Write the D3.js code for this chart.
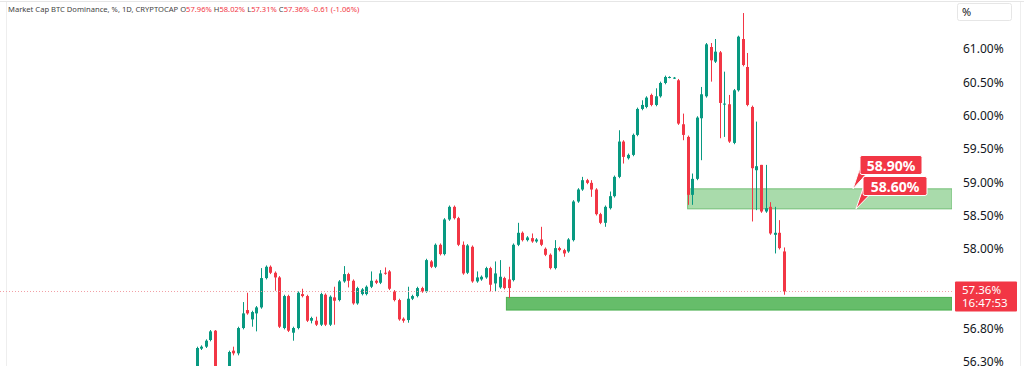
<!DOCTYPE html>
<html>
<head>
<meta charset="utf-8">
<script src="https://cdn.jsdelivr.net/npm/d3@7"></script>
<style>
  body { margin: 0; background: #fff; }
  svg { display: block; font-family: "Noto Sans", "Open Sans", sans-serif; }
</style>
</head>
<body>
<div id="chart"></div>
<script>
// daily candles, BTC dominance in %
const opens = [56.10,56.50,56.53,56.63,56.77,56.05,55.95,56.10,56.47,56.43,
  56.81,57.08,56.94,57.03,57.12,57.56,57.73,57.64,57.57,56.81,
  57.29,56.74,56.81,57.32,57.29,56.92,56.92,56.86,57.31,56.86,
  57.27,57.23,57.51,57.62,57.52,57.18,57.32,57.32,57.43,57.52,
  57.49,57.64,57.66,57.36,57.23,56.95,56.93,57.25,57.29,57.41,
  57.36,57.81,57.73,58.06,57.92,58.44,58.63,58.46,58.06,57.64,
  58.03,57.51,57.54,57.57,57.71,57.48,57.42,57.56,57.54,57.53,
  58.06,58.24,58.13,58.16,58.11,58.14,58.00,57.91,57.71,58.01,
  57.98,57.96,58.13,58.71,58.89,59.03,58.99,58.89,58.52,58.39,
  58.61,58.79,59.08,59.61,59.36,59.41,59.71,60.10,60.13,60.31,
  60.16,60.29,60.49,60.57,60.56,60.53,59.87,59.68,58.81,59.05,
  59.96,60.29,61.03,60.81,60.95,60.17,60.17,59.59,60.38,61.15,
  60.73,60.13,59.18,59.26,58.56,58.63,58.21,58.24,57.96];
const highs = [56.53,56.55,56.64,56.78,56.78,56.12,56.15,56.47,56.53,56.83,
  57.20,57.34,57.07,57.14,57.71,57.75,57.75,57.66,57.59,57.31,
  57.31,56.83,57.36,57.40,57.31,56.98,56.98,57.34,57.33,57.30,
  57.43,57.53,57.74,57.64,57.54,57.43,57.41,57.45,57.66,57.54,
  57.68,57.72,57.68,57.38,57.25,56.97,57.43,57.31,57.43,57.43,
  57.85,57.83,58.08,58.08,58.46,58.65,58.65,58.48,58.11,58.07,
  58.05,57.66,57.60,57.73,57.73,57.81,57.83,57.58,57.73,58.08,
  58.39,58.26,58.19,58.23,58.16,58.33,58.02,57.93,58.13,58.03,
  58.00,58.16,58.73,58.91,59.08,59.05,59.03,58.91,58.54,58.65,
  58.86,59.10,59.78,59.63,59.43,59.73,60.12,60.23,60.29,60.33,
  60.41,60.51,60.60,60.59,60.58,60.55,60.03,59.70,59.13,59.99,
  60.43,61.09,61.09,61.15,60.97,60.66,60.31,60.40,61.20,61.54,
  60.94,60.15,59.91,59.26,59.26,58.70,58.63,58.43,58.02];
const lows = [56.02,56.48,56.51,56.61,56.00,55.90,55.90,56.05,56.40,56.40,
  56.79,57.01,56.83,56.76,57.10,57.54,57.62,57.37,56.81,56.79,
  56.75,56.62,56.79,57.27,56.90,56.88,56.84,56.84,56.84,56.84,
  56.86,57.21,57.49,57.42,57.16,57.16,57.30,57.30,57.41,57.47,
  57.47,57.61,57.38,57.21,56.92,56.89,56.89,57.23,57.27,57.34,
  57.34,57.71,57.71,57.90,57.90,58.42,58.44,58.04,57.61,57.62,
  57.49,57.49,57.52,57.55,57.36,57.36,57.40,57.39,57.26,57.51,
  58.04,58.11,58.11,58.09,58.09,58.04,57.89,57.69,57.69,57.96,
  57.88,57.94,58.11,58.69,58.87,58.97,58.78,58.50,58.37,58.33,
  58.59,58.77,59.06,59.28,59.34,59.39,59.69,60.08,60.11,60.14,
  60.14,60.27,60.47,60.56,60.55,59.86,59.63,58.66,58.66,59.03,
  59.33,60.27,60.51,60.79,59.66,59.68,59.59,59.57,60.36,60.74,
  60.14,58.41,58.58,58.54,58.54,58.21,57.93,57.99,57.31];
const closes = [56.51,56.53,56.62,56.76,56.05,55.95,56.10,56.45,56.43,56.81,
  57.03,57.03,57.05,57.12,57.56,57.73,57.64,57.57,56.83,57.29,
  56.77,56.81,57.34,57.29,56.92,56.96,56.86,57.32,56.86,57.28,
  57.22,57.51,57.62,57.52,57.18,57.41,57.39,57.43,57.52,57.49,
  57.63,57.63,57.40,57.23,56.94,56.92,57.25,57.29,57.41,57.36,
  57.83,57.73,58.06,57.92,58.44,58.63,58.46,58.06,57.63,58.05,
  57.51,57.57,57.58,57.71,57.46,57.63,57.58,57.41,57.41,58.06,
  58.24,58.13,58.17,58.11,58.14,58.06,57.91,57.71,58.01,57.98,
  57.93,58.14,58.71,58.89,59.03,58.99,58.89,58.52,58.39,58.63,
  58.79,59.08,59.61,59.38,59.41,59.71,60.10,60.16,60.27,60.16,
  60.29,60.49,60.58,60.58,60.57,59.88,59.71,58.81,59.05,59.97,
  60.32,61.07,60.83,60.96,60.19,60.18,59.61,60.38,61.185,60.76,
  60.16,59.21,59.24,58.56,58.61,58.23,58.24,58.01,57.36];

const tickValues = [61.0, 60.5, 60.0, 59.5, 59.0, 58.5, 58.0, 56.8, 56.3];
const upperZone = [58.60, 58.90];
const lowerZone = [57.08, 57.27];
const lastPrice = 57.36;
const countdown = "16:47:53";

const W = 1024, H = 366, plotRight = 952;
const green = "#089981", red = "#f23645";

const svg = d3.select("#chart").append("svg")
  .attr("width", W).attr("height", H);

svg.append("defs").append("clipPath").attr("id", "plot")
  .append("rect").attr("x", 0).attr("y", 0).attr("width", plotRight).attr("height", H);

const x = d3.scaleLinear().domain([0, opens.length - 1]).range([196.7, 784]);
const y = d3.scaleLinear().domain([56.3, 61]).range([362, 49]);

// frame lines
svg.append("line").attr("x1", 0).attr("x2", W).attr("y1", 1.5).attr("y2", 1.5)
  .attr("stroke", "#e6e6e6");
svg.append("line").attr("x1", 6.5).attr("x2", 6.5).attr("y1", 2).attr("y2", H)
  .attr("stroke", "#eeeeee");
svg.append("line").attr("x1", 1020.5).attr("x2", 1020.5).attr("y1", 2).attr("y2", H)
  .attr("stroke", "#eeeeee");

const g = svg.append("g").attr("clip-path", "url(#plot)");

// zones
g.append("rect")
  .attr("x", x(107)).attr("width", plotRight - x(107))
  .attr("y", y(upperZone[1])).attr("height", y(upperZone[0]) - y(upperZone[1]))
  .attr("fill", "#a9dbab").attr("stroke", "#73bf76").attr("stroke-width", 1);
g.append("rect")
  .attr("x", x(67.5)).attr("width", plotRight - x(67.5))
  .attr("y", y(lowerZone[1])).attr("height", y(lowerZone[0]) - y(lowerZone[1]))
  .attr("fill", "#66bd6a").attr("stroke", "#4caf50").attr("stroke-width", 1);

// last price line
svg.append("line")
  .attr("x1", 0).attr("x2", plotRight).attr("y1", Math.round(y(lastPrice)) + 0.5).attr("y2", Math.round(y(lastPrice)) + 0.5)
  .attr("stroke", "#f2a0a6").attr("stroke-dasharray", "1,2");

const data = opens.map((o, i) => ({ i, o, h: highs[i], l: lows[i], c: closes[i] }));

const candles = g.selectAll("g.candle").data(data).enter().append("g").attr("class", "candle");
candles.append("line")
  .attr("x1", d => Math.round(x(d.i)) + 0.5).attr("x2", d => Math.round(x(d.i)) + 0.5)
  .attr("y1", d => y(d.h)).attr("y2", d => y(d.l))
  .attr("stroke", d => d.c >= d.o ? green : red).attr("stroke-width", 1);
candles.append("rect")
  .attr("x", d => Math.round(x(d.i)) - 1)
  .attr("width", 3)
  .attr("y", d => y(Math.max(d.o, d.c)))
  .attr("height", d => Math.max(1, Math.abs(y(d.o) - y(d.c))))
  .attr("fill", d => d.c >= d.o ? green : red);

// y axis labels
const yAxis = d3.axisRight(y).tickValues(tickValues).tickSize(0).tickPadding(0)
  .tickFormat(d => d3.format(".2f")(d) + "%");
const ax = svg.append("g").attr("transform", "translate(963,0)").call(yAxis);
ax.select(".domain").remove();
ax.selectAll("text").attr("fill", "#131722").style("font-size", "12px")
  .style("font-family", "'Noto Sans', sans-serif");

// "%" box
svg.append("rect").attr("x", 957.5).attr("y", 3.5).attr("width", 54).attr("height", 17).attr("rx", 2)
  .attr("fill", "#fff").attr("stroke", "#e6e6e6");
svg.append("text").attr("x", 962).attr("y", 16).text("%")
  .attr("fill", "#131722").style("font-size", "11px");

// last price tag
const py = y(lastPrice);
svg.append("rect").attr("x", 955).attr("y", py - 10).attr("width", 62).attr("height", 30).attr("rx", 1)
  .attr("fill", red);
svg.append("text").attr("x", 962).attr("y", py + 3).text(d3.format(".2f")(lastPrice) + "%")
  .attr("fill", "#fff").style("font-size", "11.5px");
svg.append("text").attr("x", 962).attr("y", py + 16).text(countdown)
  .attr("fill", "#fff").style("font-size", "11.5px");

// zone callouts
function callout(v, bx, by, bw) {
  const ty = y(v);
  svg.append("path")
    .attr("d", `M${bx},${by + 12} L${bx - 7},${ty} L${bx + 6},${by + 19} Z`)
    .attr("fill", red).attr("stroke", "#fff").attr("stroke-width", 1);
  svg.append("rect").attr("x", bx).attr("y", by).attr("width", bw).attr("height", 19).attr("rx", 2)
    .attr("fill", red).attr("stroke", "#fff").attr("stroke-width", 1);
  svg.append("text").attr("x", bx + bw / 2).attr("y", by + 15).attr("text-anchor", "middle")
    .text(d3.format(".2f")(v) + "%")
    .attr("fill", "#fff").style("font-size", "14px").style("font-weight", "bold");
}
callout(upperZone[1], 860, 155.5, 62);
callout(upperZone[0], 863, 176.5, 64);

// header
const hdr = svg.append("text").attr("x", 8).attr("y", 12).style("font-size", "7.6px");
hdr.append("tspan").text("Market Cap BTC Dominance, %, 1D, CRYPTOCAP").attr("fill", "#444");
const last = data[data.length - 1];
[["O", last.o], ["H", last.h], ["L", last.l], ["C", last.c]].forEach(([k, v]) => {
  hdr.append("tspan").text("  " + k).attr("fill", "#444");
  hdr.append("tspan").text(d3.format(".2f")(v) + "%").attr("fill", red);
});
hdr.append("tspan").text("  -0.61 (-1.06%)").attr("fill", red);
</script>
</body>
</html>
